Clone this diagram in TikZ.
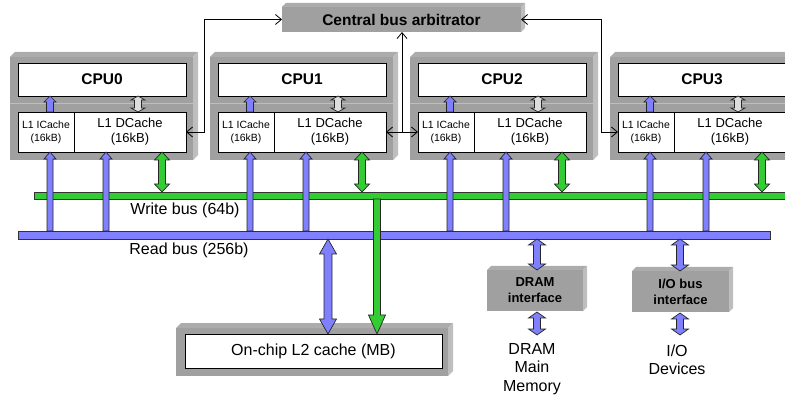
\documentclass[tikz,border=0pt]{standalone}
\usepackage{fontspec}
\setmainfont{Liberation Sans}
\usetikzlibrary{arrows.meta,calc}

\definecolor{busblue}{HTML}{8080FF}
\definecolor{busgreen}{HTML}{33CC33}
\definecolor{boxgray}{HTML}{A0A0A0}
\definecolor{boxtop}{HTML}{ACACAC}
\definecolor{boxside}{HTML}{BEBEBE}
\definecolor{portgray}{HTML}{DDDDDD}

\newcommand\cpufont{\fontsize{15.5}{18}\selectfont\bfseries}
\newcommand\dcfont{\fontsize{13}{15}\selectfont}
\newcommand\icfont{\fontsize{10.5}{13}\selectfont}
\newcommand\labfont{\fontsize{16}{18.5}\selectfont}
\newcommand\iffont{\fontsize{13}{16}\selectfont\bfseries}

\tikzset{
  front/.style={fill=boxgray, inner sep=0pt, outer sep=0pt},
  whitebox/.style={draw=black, line width=0.8pt, fill=white, inner sep=0pt, outer sep=0pt},
  busbar/.style={draw=black!80, line width=0.8pt, inner sep=0pt, outer sep=0pt, anchor=north west},
  arrowline/.style={draw=black!85, line width=0.7pt, line join=miter},
  barb/.tip={Straight Barb[length=6pt,width=10pt]},
  conn/.style={line width=0.8pt, barb-barb},
  oneway/.style={line width=0.8pt, -barb},
}

% top and right faces of a raised block: node name, depth
\newcommand\raised[2]{%
  \fill[boxtop] (#1.north west) -- ++(#2,-#2) -- ([shift={(#2,-#2)}]#1.north east) -- (#1.north east) -- cycle;
  \fill[boxside] (#1.north east) -- ++(#2,-#2) -- ([shift={(#2,-#2)}]#1.south east) -- (#1.south east) -- cycle;}

% vertical block arrows: fill, x, top y, bottom y, half shaft, half head, head length
\newcommand\fatboth[7]{%
  \filldraw[fill=#1, arrowline] (#2,#3) -- (#2+#6,#3+#7) -- (#2+#5,#3+#7) -- (#2+#5,#4-#7)
    -- (#2+#6,#4-#7) -- (#2,#4) -- (#2-#6,#4-#7) -- (#2-#5,#4-#7) -- (#2-#5,#3+#7) -- (#2-#6,#3+#7) -- cycle;}
\newcommand\fatup[7]{%
  \filldraw[fill=#1, arrowline] (#2,#3) -- (#2+#6,#3+#7) -- (#2+#5,#3+#7) -- (#2+#5,#4)
    -- (#2-#5,#4) -- (#2-#5,#3+#7) -- (#2-#6,#3+#7) -- cycle;}
\newcommand\fatdown[7]{%
  \filldraw[fill=#1, arrowline] (#2-#5,#3) -- (#2+#5,#3) -- (#2+#5,#4-#7) -- (#2+#6,#4-#7)
    -- (#2,#4) -- (#2-#6,#4-#7) -- (#2-#5,#4-#7) -- cycle;}

\begin{document}
\begin{tikzpicture}[x=1pt,y=-1pt]
\useasboundingbox (0,0) rectangle (785,398);
\clip (0,0) rectangle (785,398);

% central arbitrator
\node[front, minimum width=239, minimum height=25, font=\cpufont] (arb) at (401.5,19.5) {Central bus arbitrator};
\raised{arb}{4}

% four CPU tiles with their L1 caches
\foreach \i in {0,...,3}{
  \pgfmathsetmacro\ox{200*\i}
  \node[front, minimum width=183, minimum height=103, anchor=north west] (blk\i) at (10+\ox,57) {};
  \raised{blk\i}{5}
  \draw[boxside, line width=1pt] (10+\ox,103.5) -- (193+\ox,103.5);
  \node[whitebox, minimum width=168, minimum height=33, font=\cpufont] (cpu\i) at (102+\ox,79.5) {CPU\i};
  \node[whitebox, minimum width=56, minimum height=40, align=center, font=\icfont] (ic\i) at (46+\ox,132) {L1 ICache\\(16kB)};
  \node[whitebox, minimum width=112, minimum height=40, align=center, font=\dcfont] (dc\i) at (130+\ox,132) {L1 DCache\\(16kB)};
  \fatup{busblue}{50+\ox}{96}{112}{3.5}{6}{6}
  \fatboth{portgray}{138+\ox}{96}{112}{3.5}{7}{4}
}

% write bus
\node[busbar, fill=busgreen, minimum width=770, minimum height=7] (wbus) at (34,192) {};
\foreach \i in {0,...,3}{
  \pgfmathsetmacro\ox{200*\i}
  \fatboth{busgreen}{162+\ox}{152}{192}{3.5}{7.5}{8}
}
\node[font=\labfont] (wlab) at (185,210) {Write bus (64b)};

% read bus
\node[busbar, fill=busblue, minimum width=752, minimum height=8] (rbus) at (18,231) {};
\foreach \i in {0,...,3}{
  \pgfmathsetmacro\ox{200*\i}
  \fatup{busblue}{50+\ox}{152}{231}{3}{6}{7}
  \fatup{busblue}{106+\ox}{152}{231}{3}{6}{7}
}
\node[font=\labfont] (rlab) at (189,250) {Read bus (256b)};

% on-chip L2
\node[front, minimum width=272, minimum height=48, anchor=north west] (l2blk) at (176,328) {};
\raised{l2blk}{5}
\node[whitebox, minimum width=257, minimum height=34, font=\labfont] (l2) at (313.5,351) {On-chip L2 cache (MB)};
\fatboth{busblue}{328}{239}{334}{4}{8.5}{15}
\fatdown{busgreen}{377}{199}{334}{3.5}{8.5}{19}

% DRAM interface
\node[front, minimum width=96, minimum height=41, align=center, font=\iffont] (dram) at (535,290.5) {DRAM\\interface};
\raised{dram}{4}
\fatboth{busblue}{537}{239}{270}{3.5}{8.5}{6}
\fatboth{busblue}{537}{312}{335}{3.5}{8.5}{6}
\node[font=\labfont, align=center] (mem) at (532,369) {DRAM\\Main\\Memory};

% I/O bus interface
\node[front, minimum width=97, minimum height=41, align=center, font=\iffont] (iobus) at (680.5,291.5) {I/O bus\\interface};
\raised{iobus}{4}
\fatboth{busblue}{680}{239}{271}{3.5}{8.5}{6}
\fatboth{busblue}{680}{313}{335}{3.5}{8.5}{6}
\node[font=\labfont, align=center] (dev) at (677,360) {I/O\\Devices};

% arbitration request lines
\draw[conn] (dc0.east) -- ++(18,0) |- (arb.west);
\coordinate (mid) at ($(dc1.east)!0.5!(ic2.west)$);
\draw[conn] (dc1.east) -- (ic2.west);
\draw[oneway] (mid) -- (mid |- arb.south);
\draw[conn] (arb.east) -| ($(ic3.west)+(-17,0)$) -- (ic3.west);
\end{tikzpicture}
\end{document}
